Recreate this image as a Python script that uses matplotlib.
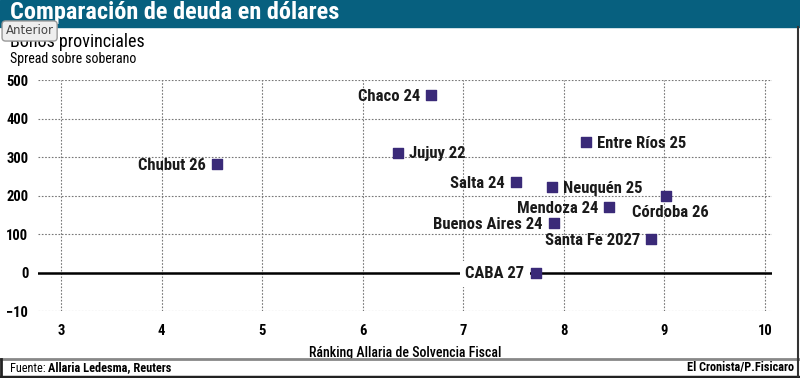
import numpy as np
import matplotlib
matplotlib.use("Agg")
from matplotlib import pyplot as plt

FONT = ["Roboto Condensed", "DejaVu Sans"]
BAR = "#07607f"
MARK = "#3a2a78"

# datos
bonos = ["Chubut 26", "Chaco 24", "Jujuy 22", "Entre Ríos 25", "Salta 24",
         "Neuquén 25", "Córdoba 26", "Mendoza 24", "Buenos Aires 24",
         "Santa Fe 2027", "CABA 27"]
ranking = [4.55, 6.68, 6.35, 8.22, 7.52, 7.88, 9.02, 8.45, 7.9, 8.87, 7.72]
spread = [282, 462, 312, 340, 235, 222, 198, 170, 128, 86, 0]
lado = ["l", "l", "r", "r", "l", "r", "b", "l", "l", "l", "l"]

y_ticks = [-10, 0, 100, 200, 300, 400, 500]
x_ticks = [3, 4, 5, 6, 7, 8, 9, 10]


def fwd(v):
    v = np.asarray(v, dtype=float)
    return np.where(v < 0, v * 10, v)


def inv(v):
    v = np.asarray(v, dtype=float)
    return np.where(v < 0, v / 10, v)


plt.rcParams['font.family'] = FONT

fig = plt.figure(figsize=(8, 3.78), dpi=100)
ax = fig.add_axes([0.0475, 0.177, 0.9175, 0.611])
ax.set_yscale("function", functions=(fwd, inv))
ax.set_ylim(-10, 500)
ax.set_xlim(2.77, 10.07)
ax.set_yticks(y_ticks)
ax.set_xticks(x_ticks)
ax.tick_params(axis="y", length=0, labelsize=10.5, pad=7)
ax.tick_params(axis="x", length=0, labelsize=10.5, pad=9)
for t in ax.get_yticklabels() + ax.get_xticklabels():
    t.set_fontweight("bold")
for s in ax.spines.values():
    s.set_visible(False)
ax.grid(True, linestyle=(0, (1.5, 1.5)), color="#777777", linewidth=0.8)
ax.axhline(0, color="black", linewidth=1.8, zorder=2)

ax.scatter(ranking, spread, marker="s", s=55, color=MARK, zorder=5)

for nom, x, y, l in zip(bonos, ranking, spread, lado):
    kw = dict(fontsize=12, fontweight="bold", color="#1a1a1a", zorder=4,
              textcoords="offset points")
    if l == "l":
        ax.annotate(nom, (x, y), xytext=(-8, -1), ha="right", va="center", **kw)
    elif l == "r":
        ax.annotate(nom, (x, y), xytext=(8, -1), ha="left", va="center", **kw)
    else:
        ax.annotate(nom, (x, y), xytext=(3, -6), ha="center", va="top", **kw)

# fondo blanco de la etiqueta CABA sobre la linea del cero
ax.texts[-1].set_bbox(dict(facecolor="white", edgecolor="none", pad=4))

ax.set_xlabel("Ránking Allaria de Solvencia Fiscal", fontsize=10,
              fontweight="medium", labelpad=6)

# cabecera
fig.patches.append(plt.Rectangle((0, 1 - 27 / 378), 1, 27 / 378,
                                 transform=fig.transFigure, color=BAR, zorder=0))
fig.text(0.0125, 1 - 13 / 378, "Comparación de deuda en dólares", color="white",
         fontsize=17.5, fontweight="bold", va="center")
fig.text(0.0125, 1 - 42 / 378, "Bonos provinciales", fontsize=13, va="center")
fig.text(0.0125, 1 - 59 / 378, "Spread sobre soberano", fontsize=10, va="center")
fig.text(0.007, 1 - 31 / 378, "Anterior", fontsize=8.5, color="#444444",
         va="center", family=["DejaVu Sans"],
         bbox=dict(facecolor="#eeeeee", edgecolor="#999999",
                   boxstyle="round,pad=0.3"))

# pie
fig.add_artist(plt.Line2D([0, 1], [1 - 359 / 378] * 2, color="#888888",
                          linewidth=2, transform=fig.transFigure))
fig.add_artist(plt.Line2D([0, 1], [1 - 376.5 / 378] * 2, color="#222222",
                          linewidth=2.5, transform=fig.transFigure))
fig.add_artist(plt.Line2D([0.001, 0.001], [1 - 376 / 378, 1 - 359 / 378],
                          color="#222222", linewidth=2, transform=fig.transFigure))
fig.add_artist(plt.Line2D([0.997, 0.997], [1 - 376 / 378, 1 - 27 / 378],
                          color="#333333", linewidth=1.5, transform=fig.transFigure))
t1 = fig.text(0.0125, 1 - 368 / 378, "Fuente: ", fontsize=8.8, va="center")
fig.canvas.draw()
bb = t1.get_window_extent().transformed(fig.transFigure.inverted())
fig.text(bb.x1, 1 - 368 / 378, "Allaria Ledesma, Reuters", fontsize=8.8,
         fontweight="bold", va="center")
fig.text(0.992, 1 - 368 / 378, "El Cronista/P.Fisicaro", fontsize=8.8,
         fontweight="bold", va="center", ha="right")

fig.savefig("out.png", dpi=100)
